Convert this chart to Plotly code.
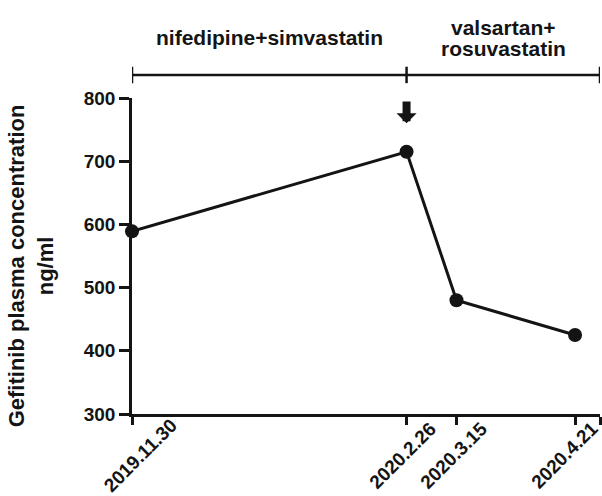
import plotly.graph_objects as go

# Data
dates = ["2019.11.30", "2020.2.26", "2020.3.15", "2020.4.21"]
days = [0, 88, 104, 142]
conc = [589, 715, 480, 425]
yticks = [300, 400, 500, 600, 700, 800]
x_end = 150
periods = [["nifedipine+simvastatin"], ["valsartan+", "rosuvastatin"]]
period_bounds = [0, 88, 150]
switch_day = 88
y_title = "Gefitinib plasma concentration<br>ng/ml"

# Styling
FONT = "Liberation Sans, Arial, sans-serif"
INK = "#141414"
label_xshift = [8, -4, -3, -11]

fig = go.Figure()
fig.add_trace(go.Scatter(
    x=days, y=conc, mode="lines+markers",
    line=dict(color=INK, width=3),
    marker=dict(color=INK, size=14),
    showlegend=False, cliponaxis=False,
))

fig.update_layout(
    width=602, height=496,
    margin=dict(l=132, r=2, t=98, b=82),
    plot_bgcolor="white", paper_bgcolor="white",
    font=dict(family=FONT, color=INK, weight="bold"),
    xaxis=dict(
        range=[0, x_end], showgrid=False, zeroline=False, automargin=False,
        showline=True, linecolor=INK, linewidth=2.5,
        ticks="outside", ticklen=8, tickwidth=2.5, tickcolor=INK,
        tickvals=days + [x_end], showticklabels=False,
    ),
    yaxis=dict(
        range=[300, 800], showgrid=False, zeroline=False, automargin=False,
        showline=True, linecolor=INK, linewidth=2.5,
        ticks="outside", ticklen=10, tickwidth=2.5, tickcolor=INK,
        tickvals=yticks, tickfont=dict(size=19, family=FONT, weight="bold"),
    ),
)

# Rotated date labels under their ticks
for d, lab, xs in zip(days, dates, label_xshift):
    fig.add_annotation(xref="x", yref="paper", x=d, y=-0.13, xshift=xs,
                       text=lab, showarrow=False, textangle=-45,
                       xanchor="center", yanchor="middle",
                       font=dict(size=19, family=FONT, weight="bold", color=INK))

# Y-axis title
fig.add_annotation(xref="paper", yref="paper", x=-0.214, y=0.47,
                   text=y_title, showarrow=False, textangle=-90,
                   xanchor="center", yanchor="middle",
                   font=dict(size=22, family=FONT, weight="bold", color=INK))

# Treatment bracket above the plot
y_line, y_lo, y_hi = 1.073, 1.047, 1.099
fig.add_shape(type="line", xref="x", yref="paper",
              x0=period_bounds[0], x1=period_bounds[-1], y0=y_line, y1=y_line,
              line=dict(color=INK, width=2.5))
for b in period_bounds:
    fig.add_shape(type="line", xref="x", yref="paper",
                  x0=b, x1=b, y0=y_lo, y1=y_hi, line=dict(color=INK, width=2.5))
line_gap = 0.069
for i, lines in enumerate(periods):
    n = len(lines)
    for j, txt in enumerate(lines):
        fig.add_annotation(xref="x", yref="paper",
                           x=(period_bounds[i] + period_bounds[i + 1]) / 2,
                           y=1.19 + ((n - 1) / 2 - j) * line_gap,
                           text=txt, showarrow=False,
                           font=dict(size=21, family=FONT, weight="bold", color=INK),
                           yanchor="middle")

# Arrow marking the switch
fig.add_annotation(x=switch_day, y=760, ax=switch_day, ay=797,
                   xref="x", yref="y", axref="x", ayref="y",
                   text="", showarrow=True, arrowhead=1, arrowsize=0.42,
                   arrowwidth=8, arrowcolor=INK)

fig.write_html("out.html", config={"displayModeBar": False},
               post_script="document.body.style.margin='0';document.body.style.overflow='hidden';")
